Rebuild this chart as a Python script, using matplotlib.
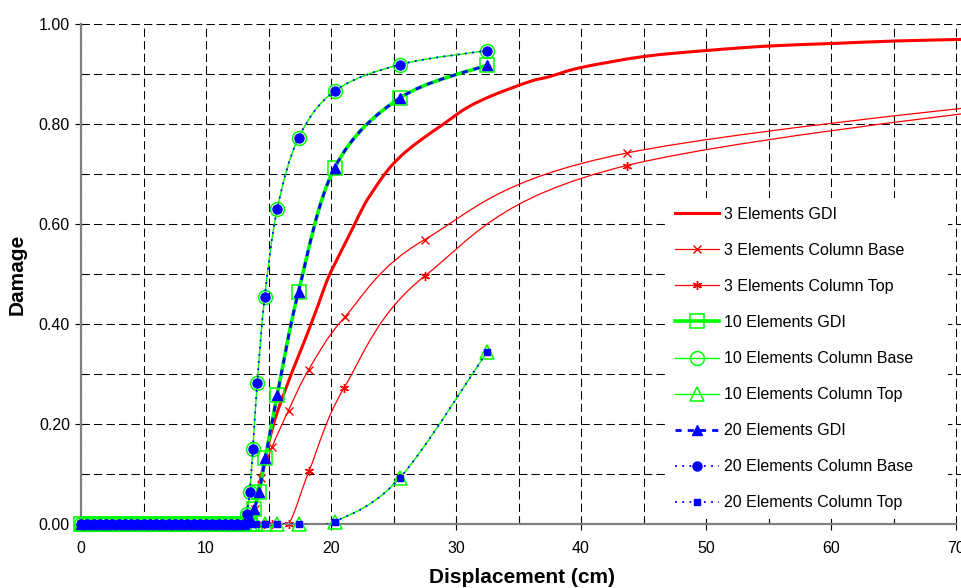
# Damage vs displacement for 3 / 10 / 20 element models (GDI, column base, column top)

import matplotlib.pyplot as plt
from matplotlib.lines import Line2D
from matplotlib.patches import PathPatch
from matplotlib.path import Path
from matplotlib.ticker import MultipleLocator, FormatStrFormatter

plt.rcParams['font.family'] = ['Liberation Sans', 'DejaVu Sans']

# zero-damage plateau shared by every run
disp_zero = [0.0, 0.5, 1.0, 1.5, 2.0, 2.5, 3.0, 3.5, 4.0, 4.5, 5.0, 5.5, 6.0, 6.5,
             7.0, 7.5, 8.0, 8.5, 9.0, 9.5, 10.0, 10.5, 11.0, 11.5, 12.0, 12.5, 13.0]
dmg_zero = [0.0, 0.0, 0.0, 0.0, 0.0, 0.0, 0.0, 0.0, 0.0, 0.0, 0.0, 0.0, 0.0, 0.0,
            0.0, 0.0, 0.0, 0.0, 0.0, 0.0, 0.0, 0.0, 0.0, 0.0, 0.0, 0.0, 0.0]

# 3 elements
gdi3_x = [0.0, 13.0, 13.6, 14.0, 14.45, 15.0, 15.5, 16.05, 16.9, 17.8, 18.4, 19.0, 19.7,
          20.3, 21.0, 21.8, 22.7, 23.6, 24.3, 25.0, 26.0, 27.4, 29.0, 30.9, 33.0, 35.9,
          37.5, 40.0, 45.0, 50.0, 55.0, 60.0, 65.0, 70.0, 71.0]
gdi3_y = [0.0, 0.0, 0.0, 0.045, 0.10, 0.16, 0.208, 0.248, 0.305, 0.361, 0.40, 0.44, 0.488,
          0.52, 0.555, 0.595, 0.64, 0.675, 0.70, 0.721, 0.745, 0.772, 0.80, 0.833, 0.858, 0.885,
          0.895, 0.913, 0.935, 0.947, 0.956, 0.961, 0.966, 0.969, 0.970]
base3_x = [13.9, 14.43, 15.3, 16.6, 18.2, 21.1, 27.5, 43.65, 90.0]
base3_y = [0.03, 0.093, 0.155, 0.227, 0.308, 0.414, 0.569, 0.742, 0.885]
top3_x = [14.6, 15.25, 16.6, 18.26, 21.06, 27.5, 43.65, 90.0]
top3_y = [0.0, 0.0, 0.0, 0.107, 0.273, 0.496, 0.717, 0.88]

# 10 elements
gdi10_x = [13.5, 13.85, 14.25, 14.75, 15.7, 17.4, 20.3, 25.5, 32.5]
gdi10_y = [0.01, 0.03, 0.065, 0.132, 0.258, 0.465, 0.713, 0.852, 0.918]
base10_x = [13.25, 13.5, 13.75, 14.1, 14.7, 15.7, 17.4, 20.3, 25.5, 32.5]
base10_y = [0.02, 0.065, 0.15, 0.283, 0.455, 0.63, 0.772, 0.866, 0.919, 0.947]
top10_x = [13.5, 14.0, 14.7, 15.7, 17.4, 20.3, 25.5, 32.5]
top10_y = [0.0, 0.0, 0.0, 0.0, 0.0, 0.005, 0.092, 0.345]

# 20 elements (sit on top of the 10 element results)
gdi20_x = [13.5, 13.85, 14.25, 14.75, 15.7, 17.4, 20.3, 25.5, 32.5]
gdi20_y = [0.01, 0.03, 0.065, 0.132, 0.258, 0.465, 0.713, 0.852, 0.918]
base20_x = [13.25, 13.5, 13.75, 14.1, 14.7, 15.7, 17.4, 20.3, 25.5, 32.5]
base20_y = [0.02, 0.065, 0.15, 0.283, 0.455, 0.63, 0.772, 0.866, 0.919, 0.947]
top20_x = [13.5, 14.0, 14.7, 15.7, 17.4, 20.3, 25.5, 32.5]
top20_y = [0.0, 0.0, 0.0, 0.0, 0.0, 0.005, 0.092, 0.345]

RED = '#FF0000'
GREEN = '#00FF00'
BLUE = '#0000FF'


def smooth_path(xs, ys):
    # Excel style "smoothed line": bezier segments through every point
    pts = list(zip(xs, ys))
    n = len(pts)
    verts = [pts[0]]
    codes = [Path.MOVETO]
    for i in range(n - 1):
        p0 = pts[i - 1] if i > 0 else pts[i]
        p1, p2 = pts[i], pts[i + 1]
        p3 = pts[i + 2] if i + 2 < n else pts[i + 1]
        c1 = (p1[0] + (p2[0] - p0[0]) / 6, p1[1] + (p2[1] - p0[1]) / 6)
        c2 = (p2[0] - (p3[0] - p1[0]) / 6, p2[1] - (p3[1] - p1[1]) / 6)
        verts += [c1, c2, p2]
        codes += [Path.CURVE4] * 3
    return Path(verts, codes)


fig = plt.figure(figsize=(9.62, 5.88), dpi=100)
ax = fig.add_axes([0.0842, 0.1088, 0.9158, 0.8503])

series = [
    ("3 Elements GDI", gdi3_x, gdi3_y,
     dict(color=RED, lw=2.2, ls='-'), None),
    ("3 Elements Column Base", disp_zero + base3_x, dmg_zero + base3_y,
     dict(color=RED, lw=0.9, ls='-'), dict(marker='x', ms=5.5, mew=1.0)),
    ("3 Elements Column Top", disp_zero + top3_x, dmg_zero + top3_y,
     dict(color=RED, lw=0.9, ls='-'), dict(marker=(6, 2, 0), ms=6.5, mew=1.0)),
    ("10 Elements GDI", disp_zero + gdi10_x, dmg_zero + gdi10_y,
     dict(color=GREEN, lw=2.6, ls='-'), dict(marker='s', ms=10, mfc='none', mew=1.1)),
    ("10 Elements Column Base", disp_zero + base10_x, dmg_zero + base10_y,
     dict(color=GREEN, lw=1.0, ls='-'), dict(marker='o', ms=10, mfc='none', mew=1.1)),
    ("10 Elements Column Top", disp_zero + top10_x, dmg_zero + top10_y,
     dict(color=GREEN, lw=1.0, ls='-'), dict(marker='^', ms=10.5, mfc='none', mew=1.1)),
    ("20 Elements GDI", disp_zero + gdi20_x, dmg_zero + gdi20_y,
     dict(color=BLUE, lw=2.0, ls=(0, (2.2, 2.2))), dict(marker='^', ms=6.5)),
    ("20 Elements Column Base", disp_zero + base20_x, dmg_zero + base20_y,
     dict(color=BLUE, lw=1.3, ls=(0, (1, 3))), dict(marker='o', ms=6.5)),
    ("20 Elements Column Top", disp_zero + top20_x, dmg_zero + top20_y,
     dict(color=BLUE, lw=1.3, ls=(0, (1, 3))), dict(marker='s', ms=4.5)),
]

handles = []
for k, (label, xs, ys, line, mk) in enumerate(series):
    z = 2 + k * 0.1
    ax.add_patch(PathPatch(smooth_path(xs, ys), facecolor='none', edgecolor=line['color'],
                           lw=line['lw'], linestyle=line['ls'], zorder=z))
    if mk is not None:
        ax.plot(xs, ys, ls='none', color=line['color'], clip_on=False, zorder=z + 0.05, **mk)
    handles.append(Line2D([], [], color=line['color'], lw=line['lw'], ls=line['ls'],
                          label=label, **(mk or {})))

ax.set_xlim(0, 70.48)
ax.set_ylim(0, 1.0)
ax.xaxis.set_major_locator(MultipleLocator(10))
ax.xaxis.set_minor_locator(MultipleLocator(5))
ax.yaxis.set_major_locator(MultipleLocator(0.2))
ax.yaxis.set_minor_locator(MultipleLocator(0.1))
ax.yaxis.set_major_formatter(FormatStrFormatter('%.2f'))

ax.grid(True, which='both', color='black', lw=0.75, ls=(0, (8, 4)))
ax.set_axisbelow(True)
for side in ('top', 'right'):
    ax.spines[side].set_visible(False)
for side in ('left', 'bottom'):
    ax.spines[side].set_color('#808080')
    ax.spines[side].set_linewidth(1.6)
ax.spines['bottom'].set_bounds(0, 70)

ax.tick_params(which='major', direction='inout', length=8, width=0.8, labelsize=11.5, pad=4)
ax.tick_params(which='minor', direction='in', length=4, width=0.8)
ax.tick_params(axis='x', pad=8)

ax.set_xlabel("Displacement (cm)", fontsize=15, fontweight='bold', labelpad=9)
ax.set_ylabel("Damage", fontsize=15, fontweight='bold', labelpad=9)

ax.legend(handles=handles, loc='upper left', bbox_to_anchor=(0.664, 0.0, 0.32, 0.652),
          mode='expand', fontsize=11.5, frameon=True, fancybox=False, framealpha=1,
          facecolor='white', edgecolor='none', handlelength=2.8, handletextpad=0.3,
          labelspacing=1.32, borderpad=0.55, borderaxespad=0)

fig.savefig("out.png", dpi=100)
